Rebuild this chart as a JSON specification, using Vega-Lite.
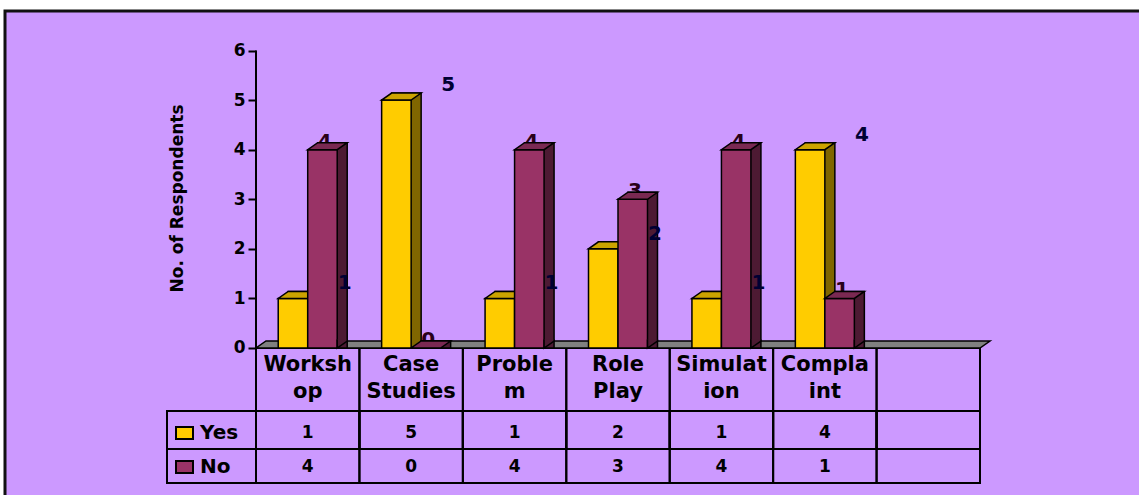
{
  "$schema": "https://vega.github.io/schema/vega-lite/v6.json",
  "width": 1140,
  "height": 490,
  "autosize": {"type": "none"},
  "padding": {"left": 5, "top": 11, "right": 0, "bottom": 0},
  "background": "white",
  "config": {
    "view": {"fill": "#CC99FF", "stroke": "#111111", "strokeWidth": 3},
    "font": "DejaVu Sans",
    "axisX": {"disable": true}
  },
  "data": {
    "values": [
      {"cat": "Workshop", "label": "Worksh\nop", "series": "Yes", "value": 1},
      {"cat": "Workshop", "label": "Worksh\nop", "series": "No", "value": 4},
      {"cat": "Case Studies", "label": "Case\nStudies", "series": "Yes", "value": 5},
      {"cat": "Case Studies", "label": "Case\nStudies", "series": "No", "value": 0},
      {"cat": "Problem", "label": "Proble\nm", "series": "Yes", "value": 1},
      {"cat": "Problem", "label": "Proble\nm", "series": "No", "value": 4},
      {"cat": "Role Play", "label": "Role\nPlay", "series": "Yes", "value": 2},
      {"cat": "Role Play", "label": "Role\nPlay", "series": "No", "value": 3},
      {"cat": "Simulation", "label": "Simulat\nion", "series": "Yes", "value": 1},
      {"cat": "Simulation", "label": "Simulat\nion", "series": "No", "value": 4},
      {"cat": "Complaint", "label": "Compla\nint", "series": "Yes", "value": 4},
      {"cat": "Complaint", "label": "Compla\nint", "series": "No", "value": 1}
    ]
  },
  "layer": [
    {
      "transform": [{"filter": "datum.series == 'Yes'"}],
      "mark": {"type": "rect", "fill": "transparent", "stroke": "black", "strokeWidth": 2},
      "encoding": {
        "x": {"field": "cat", "type": "nominal", "scale": {"type": "band", "domain": ["Workshop", "Case Studies", "Problem", "Role Play", "Simulation", "Complaint", " "], "range": [251, 975], "paddingInner": 0, "paddingOuter": 0}},
        "y": {"datum": 0, "type": "quantitative", "scale": {"domain": [-3.086, 6.797], "nice": false, "zero": false}},
        "y2": {"datum": -2.7229}
      }
    },
    {
      "transform": [{"filter": "datum.series == 'Yes'"}],
      "mark": {"type": "rect", "fill": "transparent", "stroke": "black", "strokeWidth": 2},
      "encoding": {
        "x": {"field": "cat", "type": "nominal"},
        "y": {"datum": -1.2707, "type": "quantitative"},
        "y2": {"datum": -2.0371}
      }
    },
    {
      "data": {"values": [{"cat": " "}]},
      "mark": {"type": "rect", "fill": "transparent", "stroke": "black", "strokeWidth": 2},
      "encoding": {
        "x": {"field": "cat", "type": "nominal"},
        "y": {"datum": 0, "type": "quantitative"},
        "y2": {"datum": -2.7229}
      }
    },
    {
      "data": {"values": [{"cat": " "}]},
      "mark": {"type": "rect", "fill": "transparent", "stroke": "black", "strokeWidth": 2},
      "encoding": {
        "x": {"field": "cat", "type": "nominal"},
        "y": {"datum": -1.2707, "type": "quantitative"},
        "y2": {"datum": -2.0371}
      }
    },
    {
      "data": {"values": [{"cat": "Workshop"}]},
      "mark": {"type": "point", "shape": "M 0 0 L 724 0 L 734 -7 L 10 -7 Z", "size": 4, "filled": true, "fill": "#808080", "stroke": "black", "strokeWidth": 1.5, "opacity": 1},
      "encoding": {
        "x": {"field": "cat", "type": "nominal", "bandPosition": 0},
        "y": {"datum": 0, "type": "quantitative"}
      }
    },
    {
      "data": {"values": [{"cat": "Workshop"}]},
      "mark": {"type": "point", "shape": "M 0 0 L -89 0 L -89 72 L 0 72 M -89 38 L 0 38", "size": 4, "filled": false, "fill": "transparent", "stroke": "black", "strokeWidth": 2, "opacity": 1},
      "encoding": {
        "x": {"field": "cat", "type": "nominal", "bandPosition": 0},
        "y": {"datum": -1.2707, "type": "quantitative"}
      }
    },
    {
      "data": {"values": [{"cat": "Workshop"}]},
      "mark": {"type": "rule", "stroke": "black", "strokeWidth": 2},
      "encoding": {
        "x": {"field": "cat", "type": "nominal", "bandPosition": 0},
        "y": {"datum": 6, "type": "quantitative"},
        "y2": {"datum": -2.7229}
      }
    },
    {
      "transform": [{"filter": "datum.series == 'Yes'"}],
      "mark": {"type": "text", "fontSize": 21, "fontWeight": "bold", "lineBreak": "\n", "lineHeight": 27, "baseline": "middle", "align": "center", "color": "black"},
      "encoding": {
        "x": {"field": "cat", "type": "nominal"},
        "y": {"datum": -0.333, "type": "quantitative"},
        "text": {"field": "label"}
      }
    },
    {
      "transform": [{"filter": "datum.series == 'Yes'"}],
      "mark": {"type": "text", "fontSize": 17, "fontWeight": "bold", "baseline": "middle", "align": "center", "color": "black"},
      "encoding": {
        "x": {"field": "cat", "type": "nominal"},
        "y": {"datum": -1.714, "type": "quantitative"},
        "text": {"field": "value"}
      }
    },
    {
      "transform": [{"filter": "datum.series == 'No'"}],
      "mark": {"type": "text", "fontSize": 17, "fontWeight": "bold", "baseline": "middle", "align": "center", "color": "black"},
      "encoding": {
        "x": {"field": "cat", "type": "nominal"},
        "y": {"datum": -2.40, "type": "quantitative"},
        "text": {"field": "value"}
      }
    },
    {
      "data": {"values": [{"cat": "Workshop", "series": "Yes"}]},
      "mark": {"type": "point", "shape": "M -8.5 -6 L 8.5 -6 L 8.5 6 L -8.5 6 Z", "size": 4, "filled": true, "fill": "#FFCC00", "stroke": "black", "strokeWidth": 2, "opacity": 1, "xOffset": -71.5},
      "encoding": {
        "x": {"field": "cat", "type": "nominal", "bandPosition": 0},
        "y": {"datum": -1.714, "type": "quantitative"}
      }
    },
    {
      "data": {"values": [{"cat": "Workshop", "series": "No"}]},
      "mark": {"type": "point", "shape": "M -8.5 -6 L 8.5 -6 L 8.5 6 L -8.5 6 Z", "size": 4, "filled": true, "fill": "#993366", "stroke": "black", "strokeWidth": 2, "opacity": 1, "xOffset": -71.5},
      "encoding": {
        "x": {"field": "cat", "type": "nominal", "bandPosition": 0},
        "y": {"datum": -2.40, "type": "quantitative"}
      }
    },
    {
      "data": {"values": [{"cat": "Workshop", "series": "Yes"}]},
      "mark": {"type": "text", "fontSize": 20, "fontWeight": "bold", "baseline": "middle", "align": "left", "color": "black", "dx": -56},
      "encoding": {
        "x": {"field": "cat", "type": "nominal", "bandPosition": 0},
        "y": {"datum": -1.714, "type": "quantitative"},
        "text": {"field": "series"}
      }
    },
    {
      "data": {"values": [{"cat": "Workshop", "series": "No"}]},
      "mark": {"type": "text", "fontSize": 20, "fontWeight": "bold", "baseline": "middle", "align": "left", "color": "black", "dx": -56},
      "encoding": {
        "x": {"field": "cat", "type": "nominal", "bandPosition": 0},
        "y": {"datum": -2.40, "type": "quantitative"},
        "text": {"field": "series"}
      }
    },
    {
      "transform": [{"filter": "datum.series == 'Yes'"}],
      "layer": [
        {
          "mark": {"type": "bar", "width": {"band": 0.2852}, "xOffset": -4.75, "yOffset": -7, "y2Offset": -7, "fill": "#806600", "stroke": "black", "strokeWidth": 1.5},
          "encoding": {
            "x": {"field": "cat", "type": "nominal"},
            "y": {"field": "value", "type": "quantitative", "stack": null,
              "axis": {"values": [0, 1, 2, 3, 4, 5, 6], "offset": -251, "domain": false, "grid": false, "ticks": true, "tickSize": 8, "tickWidth": 2, "tickColor": "black", "labelFont": "DejaVu Sans", "labelFontWeight": "bold", "labelFontSize": 17, "labelColor": "black", "labelPadding": 3, "title": "No. of Respondents", "titleFont": "DejaVu Sans", "titleFontWeight": "bold", "titleFontSize": 17, "titleColor": "black", "titlePadding": 47, "titleY": 187}}
          }
        },
        {
          "mark": {"type": "bar", "width": {"band": 0.2852}, "xOffset": -14.75, "fill": "#FFCC00", "stroke": "black", "strokeWidth": 1.5},
          "encoding": {
            "x": {"field": "cat", "type": "nominal"},
            "y": {"field": "value", "type": "quantitative", "stack": null}
          }
        },
        {
          "mark": {"type": "point", "shape": "M -29.5 0 L 0 0 L 10 -7 L -19.5 -7 Z", "size": 4, "filled": true, "fill": "#CCA300", "stroke": "black", "strokeWidth": 1.5, "opacity": 1},
          "encoding": {
            "x": {"field": "cat", "type": "nominal"},
            "y": {"field": "value", "type": "quantitative"}
          }
        }
      ]
    },
    {
      "transform": [{"filter": "datum.series == 'No'"}],
      "layer": [
        {
          "mark": {"type": "text", "fontSize": 20, "fontWeight": "bold", "baseline": "middle", "align": "center", "color": "#2a0018", "dx": 17, "dy": -8},
          "encoding": {
            "x": {"field": "cat", "type": "nominal"},
            "y": {"field": "value", "type": "quantitative"},
            "text": {"field": "value"}
          }
        },
        {
          "mark": {"type": "bar", "width": {"band": 0.2852}, "xOffset": 24.75, "yOffset": -7, "y2Offset": -7, "fill": "#4D1A33", "stroke": "black", "strokeWidth": 1.5},
          "encoding": {
            "x": {"field": "cat", "type": "nominal"},
            "y": {"field": "value", "type": "quantitative", "stack": null}
          }
        },
        {
          "mark": {"type": "bar", "width": {"band": 0.2852}, "xOffset": 14.75, "fill": "#993366", "stroke": "black", "strokeWidth": 1.5},
          "encoding": {
            "x": {"field": "cat", "type": "nominal"},
            "y": {"field": "value", "type": "quantitative", "stack": null}
          }
        },
        {
          "transform": [{"filter": "datum.value > 0"}],
          "mark": {"type": "point", "shape": "M 29.5 -8.5 L 29.5 0 L 39.5 -7 L 39.5 -8.5", "size": 4, "filled": true, "fill": "#4D1A33", "stroke": "black", "strokeWidth": 1.5, "opacity": 1},
          "encoding": {
            "x": {"field": "cat", "type": "nominal"},
            "y": {"datum": 0, "type": "quantitative"}
          }
        },
        {
          "mark": {"type": "point", "shape": "M 0 0 L 29.5 0 L 39.5 -7 L 10 -7 Z", "size": 4, "filled": true, "fill": "#7A2952", "stroke": "black", "strokeWidth": 1.5, "opacity": 1},
          "encoding": {
            "x": {"field": "cat", "type": "nominal"},
            "y": {"field": "value", "type": "quantitative"}
          }
        }
      ]
    },
    {
      "transform": [{"filter": "datum.series == 'Yes'"}],
      "mark": {"type": "text", "fontSize": 20, "fontWeight": "bold", "baseline": "middle", "align": "center", "color": "#000033", "dx": 37, "dy": -15},
      "encoding": {
        "x": {"field": "cat", "type": "nominal"},
        "y": {"field": "value", "type": "quantitative"},
        "text": {"field": "value"}
      }
    }
  ]
}
